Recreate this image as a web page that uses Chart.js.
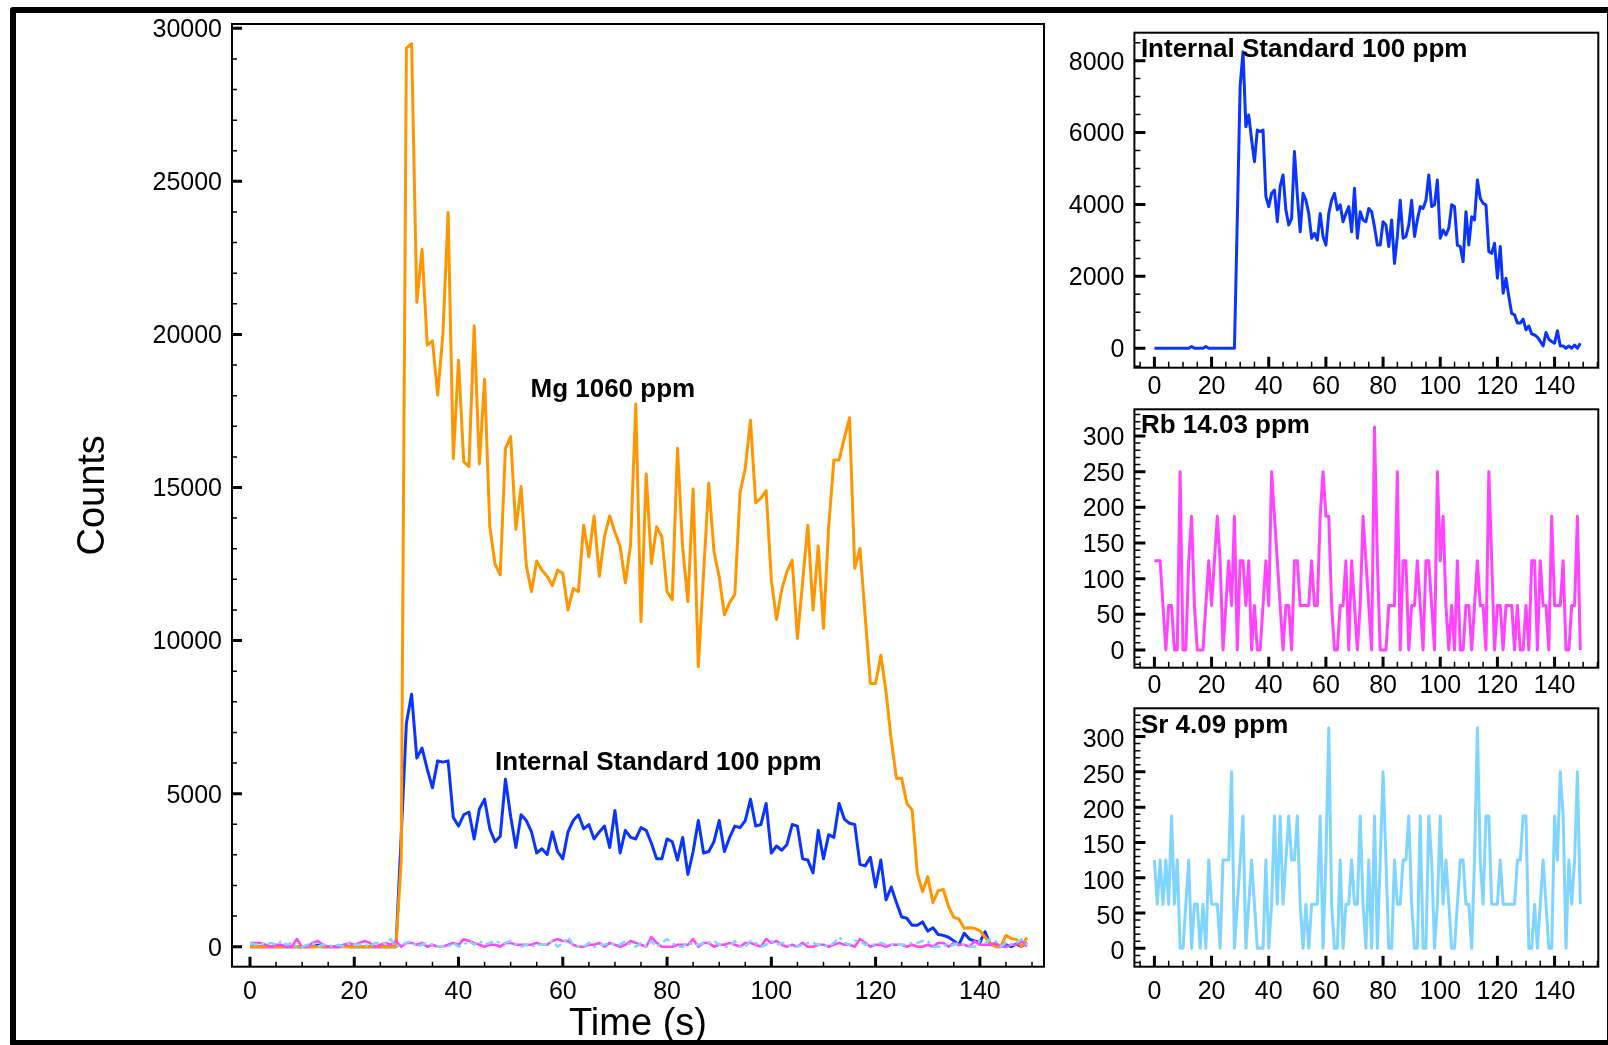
<!DOCTYPE html>
<html>
<head>
<meta charset="utf-8">
<title>Counts vs time</title>
<script src="https://cdn.jsdelivr.net/npm/chart.js@4.4.1/dist/chart.umd.min.js"></script>
<style>
  html, body { margin: 0; padding: 0; background: #fff; }
  #page { position: relative; width: 1608px; height: 1045px; overflow: hidden; background: #fff; }
  #page canvas { position: absolute; }
  #frame { position: absolute; left: 10px; top: 7px; width: 1591px; height: 1027px; border: 6px solid #000; border-radius: 3px; }
</style>
</head>
<body>
<div id="page">
  <div id="frame"></div>
  <canvas id="main" width="1060" height="1045" style="left:0;top:0"></canvas>
  <canvas id="is" width="548" height="400" style="left:1060px;top:0"></canvas>
  <canvas id="rb" width="548" height="310" style="left:1060px;top:390px"></canvas>
  <canvas id="sr" width="548" height="355" style="left:1060px;top:690px"></canvas>
</div>
<script>
// sampling times, one reading per second
const time = Array.from({ length: 150 }, (_, i) => i);

const mgCounts = [
  0, 0, 0, 0, 0, 0, 0, 0, 0, 0, 0, 0, 0, 0, 0, 0, 0, 0, 0, 0,
  0, 0, 0, 0, 0, 0, 0, 0, 0, 2800,
  29350, 29500, 21050, 22780, 19650, 19790, 18020, 20000, 23980, 15950,
  19160, 15840, 15680, 20280, 15770, 18540, 13720, 12500, 12150, 16280,
  16660, 13630, 15030, 12450, 11600, 12600, 12300, 12100, 11800, 12300,
  12200, 11000, 11700, 11600, 13770, 12740, 14070, 12100, 13400, 14070,
  13550, 13070, 11890, 13120, 17730, 10620, 15440, 12520, 13720, 13390,
  11600, 11330, 16280, 13010, 11270, 14950, 9150, 12200, 15140, 12900,
  12090, 10840, 11240, 11510, 14830, 15630, 17200, 14500, 14650, 14900,
  11980, 10690, 11670, 12250, 12630, 10070, 11900, 13770, 11000, 13090,
  10400, 13720, 15900, 15900, 16610, 17280, 12360, 13010, 10800, 8600,
  8600, 9520, 8330, 6750, 5500, 5500, 4680, 4470, 2400, 1800,
  2290, 1440, 1830, 1870, 1310, 960, 900, 600, 620, 600,
  520, 310, 120, 0, 0, 370, 270, 240, 0, 300
];

const isCounts = [
  0, 0, 0, 0, 0, 0, 0, 0, 0, 0, 0, 0, 0, 50, 0, 0, 0, 0, 50, 0,
  0, 0, 0, 0, 0, 0, 0, 0, 0, 3600,
  7300, 8250, 6160, 6490, 5800, 5190, 6070, 6030, 6070, 4220,
  3940, 4310, 4400, 3520, 4500, 4820, 3850, 3430, 3610, 5470,
  4260, 3240, 4310, 4120, 3750, 3060, 3200, 3010, 3750, 3110,
  2870, 3750, 4120, 4310, 3850, 3990, 3520, 3750, 3940, 3240,
  4450, 3060, 3800, 3570, 3520, 3890, 3800, 3380, 2870, 2870,
  3520, 3430, 2830, 3570, 2360, 3110, 4120, 3060, 3110, 3430,
  4120, 3110, 3570, 3940, 3890, 4120, 4820, 3940, 3990, 4680,
  3060, 3290, 3150, 3340, 3990, 3940, 2870, 2830, 2410, 3800,
  2870, 3660, 3570, 4680, 4170, 4030, 3990, 2690, 2640, 2920,
  1950, 2830, 1530, 1950, 1440, 970, 930, 700, 700, 810,
  510, 620, 400, 370, 310, 190, 65, 440, 250, 190,
  140, 490, 65, 65, 0, 65, 0, 90, 0, 140
];

const rbCounts = [
  125, 125, 125, 62.5, 0, 62.5, 62.5, 0, 0, 250,
  0, 0, 125, 187.5, 62.5, 0, 0, 0, 62.5, 125,
  62.5, 125, 187.5, 125, 0, 62.5, 125, 62.5, 187.5, 0,
  125, 125, 62.5, 125, 0, 62.5, 0, 0, 62.5, 125,
  62.5, 250, 187.5, 125, 62.5, 0, 62.5, 62.5, 0, 125,
  125, 62.5, 62.5, 62.5, 62.5, 125, 62.5, 62.5, 187.5, 250,
  187.5, 187.5, 62.5, 0, 0, 62.5, 62.5, 125, 0, 125,
  62.5, 0, 62.5, 187.5, 125, 62.5, 0, 312.5, 125, 0,
  0, 0, 62.5, 62.5, 62.5, 250, 0, 125, 125, 0,
  62.5, 62.5, 125, 62.5, 0, 125, 125, 62.5, 0, 250,
  125, 187.5, 62.5, 0, 62.5, 0, 125, 0, 0, 62.5,
  62.5, 0, 62.5, 125, 62.5, 62.5, 0, 250, 125, 0,
  62.5, 62.5, 0, 62.5, 62.5, 62.5, 0, 62.5, 0, 0,
  62.5, 0, 125, 125, 0, 125, 62.5, 62.5, 0, 187.5,
  62.5, 62.5, 62.5, 125, 0, 0, 62.5, 62.5, 187.5, 0
];

const srCounts = [
  125, 62.5, 125, 62.5, 125, 62.5, 187.5, 62.5, 125, 0,
  0, 62.5, 125, 0, 62.5, 62.5, 0, 62.5, 0, 125,
  62.5, 62.5, 62.5, 0, 125, 125, 125, 250, 0, 62.5,
  125, 187.5, 0, 62.5, 125, 62.5, 0, 0, 0, 125,
  0, 62.5, 187.5, 62.5, 187.5, 62.5, 125, 187.5, 125, 125,
  187.5, 62.5, 0, 62.5, 0, 62.5, 62.5, 62.5, 187.5, 0,
  125, 312.5, 62.5, 0, 0, 125, 0, 62.5, 62.5, 125,
  62.5, 62.5, 187.5, 62.5, 0, 125, 0, 187.5, 0, 125,
  250, 125, 0, 0, 125, 62.5, 62.5, 125, 125, 187.5,
  62.5, 0, 0, 187.5, 0, 0, 187.5, 125, 0, 62.5,
  187.5, 62.5, 125, 62.5, 0, 0, 62.5, 125, 125, 62.5,
  62.5, 0, 125, 312.5, 125, 62.5, 187.5, 187.5, 62.5, 62.5,
  62.5, 125, 62.5, 62.5, 62.5, 62.5, 62.5, 125, 125, 187.5,
  187.5, 0, 0, 62.5, 0, 62.5, 125, 62.5, 0, 0,
  187.5, 125, 250, 187.5, 0, 125, 62.5, 125, 250, 62.5
];

// tick labels
const timeTicks = [0, 20, 40, 60, 80, 100, 120, 140];
const mainCountTicks = [0, 5000, 10000, 15000, 20000, 25000, 30000];
const isCountTicks = [0, 2000, 4000, 6000, 8000];
const traceCountTicks = [0, 50, 100, 150, 200, 250, 300];

const ORANGE = '#ff9600', BLUE = '#0a34ff', MAGENTA = '#ff44ff', SKY = '#7fd5ff';
const FONT = '"Liberation Sans", Arial, Helvetica, sans-serif';

const pts = (vals) => time.map((t, i) => ({ x: t, y: vals[i] }));

// minor tick positions between the labelled ones
function minors(from, to, step, majorStep) {
  const out = [];
  for (let v = from; v <= to + 1e-9; v += step) {
    if (Math.abs(v / majorStep - Math.round(v / majorStep)) > 1e-6) out.push(v);
  }
  return out;
}

// box around the plot area plus inward tick marks
function frameTicks(cfg) {
  return {
    id: 'frameTicks',
    afterDraw(chart) {
      const { ctx, chartArea: a, scales: { x, y } } = chart;
      ctx.save();
      ctx.strokeStyle = '#000';
      ctx.lineWidth = 2;
      ctx.strokeRect(a.left, a.top, a.right - a.left, a.bottom - a.top);
      const mark = (vals, len, w, horiz) => {
        ctx.lineWidth = w;
        ctx.beginPath();
        vals.forEach(v => {
          if (horiz) {
            const px = x.getPixelForValue(v);
            ctx.moveTo(px, a.bottom); ctx.lineTo(px, a.bottom - len);
          } else {
            const py = y.getPixelForValue(v);
            ctx.moveTo(a.left, py); ctx.lineTo(a.left + len, py);
          }
        });
        ctx.stroke();
      };
      mark(cfg.xMinor, cfg.minorLen, 1.5, true);
      mark(cfg.yMinor, cfg.minorLen, 1.5, false);
      mark(cfg.xMajor, cfg.majorLen, 3, true);
      mark(cfg.yMajor, cfg.majorLen, 3, false);
      ctx.restore();
    }
  };
}

// bold captions; 'data' ones sit at x/y values, the rest are offsets from the plot corner
function captions(items, size) {
  return {
    id: 'captions',
    afterDatasetsDraw(chart) {
      const { ctx, chartArea: a, scales: { x, y } } = chart;
      ctx.save();
      ctx.fillStyle = '#000';
      ctx.font = `bold ${size}px ${FONT}`;
      ctx.textAlign = 'left';
      ctx.textBaseline = 'alphabetic';
      items.forEach(it => {
        const px = it.data ? x.getPixelForValue(it.x) : a.left + it.x;
        const py = it.data ? y.getPixelForValue(it.y) : a.top + it.y;
        ctx.fillText(it.text, px, py);
      });
      ctx.restore();
    }
  };
}

function makeChart(id, datasets, o) {
  return new Chart(document.getElementById(id), {
    type: 'line',
    data: { datasets },
    options: {
      responsive: false,
      animation: false,
      devicePixelRatio: 1,
      layout: { padding: o.pad },
      elements: { point: { radius: 0 }, line: { tension: 0, borderJoinStyle: 'round' } },
      plugins: { legend: { display: false }, tooltip: { enabled: false } },
      scales: {
        x: {
          type: 'linear', min: o.xMin, max: o.xMax,
          afterBuildTicks: s => { s.ticks = timeTicks.map(v => ({ value: v })); },
          afterFit: s => { s.height = o.xH; s.paddingLeft = 0; s.paddingRight = 0; },
          grid: { display: false, drawTicks: false },
          border: { display: false },
          ticks: { autoSkip: false, maxRotation: 0, padding: o.xPad, color: '#000',
                   font: { family: FONT, size: 25 }, callback: v => String(v) },
          title: o.xTitle ? { display: true, text: o.xTitle, color: '#000',
                   font: { family: FONT, size: 38, lineHeight: 1.1 }, padding: { top: 0, bottom: 0 } } : { display: false }
        },
        y: {
          type: 'linear', min: o.yMin, max: o.yMax,
          afterBuildTicks: s => { s.ticks = o.yTicks.map(v => ({ value: v })); },
          afterFit: s => { s.width = o.yW; s.paddingTop = 0; s.paddingBottom = 0; },
          grid: { display: false, drawTicks: false },
          border: { display: false },
          ticks: { autoSkip: false, padding: 10, labelOffset: o.yShift || 2, color: '#000',
                   font: { family: FONT, size: 25 }, callback: v => String(v) },
          title: o.yTitle ? { display: true, text: o.yTitle, color: '#000',
                   font: { family: FONT, size: 38 }, padding: { top: 71, bottom: 0 } } : { display: false }
        }
      }
    },
    plugins: [frameTicks(o.ticks), captions(o.captions, o.capSize)]
  });
}

// overview: all four traces together
makeChart('main', [
  { data: pts(srCounts), borderColor: SKY, borderWidth: 2.5, borderDash: [8, 4, 3, 4] },
  { data: pts(rbCounts), borderColor: MAGENTA, borderWidth: 2.5 },
  { data: pts(mgCounts), borderColor: ORANGE, borderWidth: 3 },
  { data: pts(isCounts), borderColor: BLUE, borderWidth: 3 }
], {
  pad: { left: 0, top: 24, right: 16, bottom: 0 },
  xMin: -3.45, xMax: 152.3, yMin: -653, yMax: 30140,
  xH: 78.3, yW: 232, xPad: 10,
  yTicks: mainCountTicks,
  xTitle: 'Time (s)', yTitle: 'Counts',
  ticks: { xMajor: timeTicks, xMinor: minors(5, 150, 5, 20),
           yMajor: mainCountTicks, yMinor: minors(1000, 29000, 1000, 5000),
           majorLen: 10, minorLen: 5 },
  capSize: 26,
  captions: [
    { text: 'Mg 1060 ppm', x: 53.8, y: 17950, data: true },
    { text: 'Internal Standard 100 ppm', x: 47.0, y: 5770, data: true }
  ]
});

// single-trace panels on the right
const panelTicks = (yMajor, yMinor) => ({
  xMajor: timeTicks, xMinor: minors(-5, 155, 5, 20),
  yMajor, yMinor, majorLen: 11, minorLen: 6
});

makeChart('is', [{ data: pts(isCounts), borderColor: BLUE, borderWidth: 3 }], {
  pad: { left: 0, top: 32.7, right: 9.7, bottom: 0 },
  xMin: -7, xMax: 155.3, yMin: -540, yMax: 8777,
  xH: 32.3, yW: 74.4, xPad: 4,
  yTicks: isCountTicks,
  ticks: panelTicks(isCountTicks, minors(-500, 8500, 500, 2000)),
  capSize: 26,
  captions: [{ text: 'Internal Standard 100 ppm', x: 6.5, y: 24.5 }]
});

makeChart('rb', [{ data: pts(rbCounts), borderColor: MAGENTA, borderWidth: 3 }], {
  pad: { left: 0, top: 19.3, right: 9.7, bottom: 0 },
  xMin: -7, xMax: 155.3, yMin: -24.8, yMax: 337.4,
  xH: 32.3, yW: 74.4, xPad: 3,
  yTicks: traceCountTicks,
  ticks: panelTicks(traceCountTicks, minors(-20, 330, 10, 50)),
  capSize: 26,
  captions: [{ text: 'Rb 14.03 ppm', x: 6.5, y: 24 }]
});

makeChart('sr', [{ data: pts(srCounts), borderColor: SKY, borderWidth: 3 }], {
  pad: { left: 0, top: 18.3, right: 9.7, bottom: 0 },
  xMin: -7, xMax: 155.3, yMin: -26, yMax: 340,
  xH: 78.3, yW: 74.4, xPad: 10.5, yShift: 4,
  yTicks: traceCountTicks,
  ticks: panelTicks(traceCountTicks, minors(-20, 330, 10, 50)),
  capSize: 26,
  captions: [{ text: 'Sr 4.09 ppm', x: 6.5, y: 24.4 }]
});
</script>
</body>
</html>
